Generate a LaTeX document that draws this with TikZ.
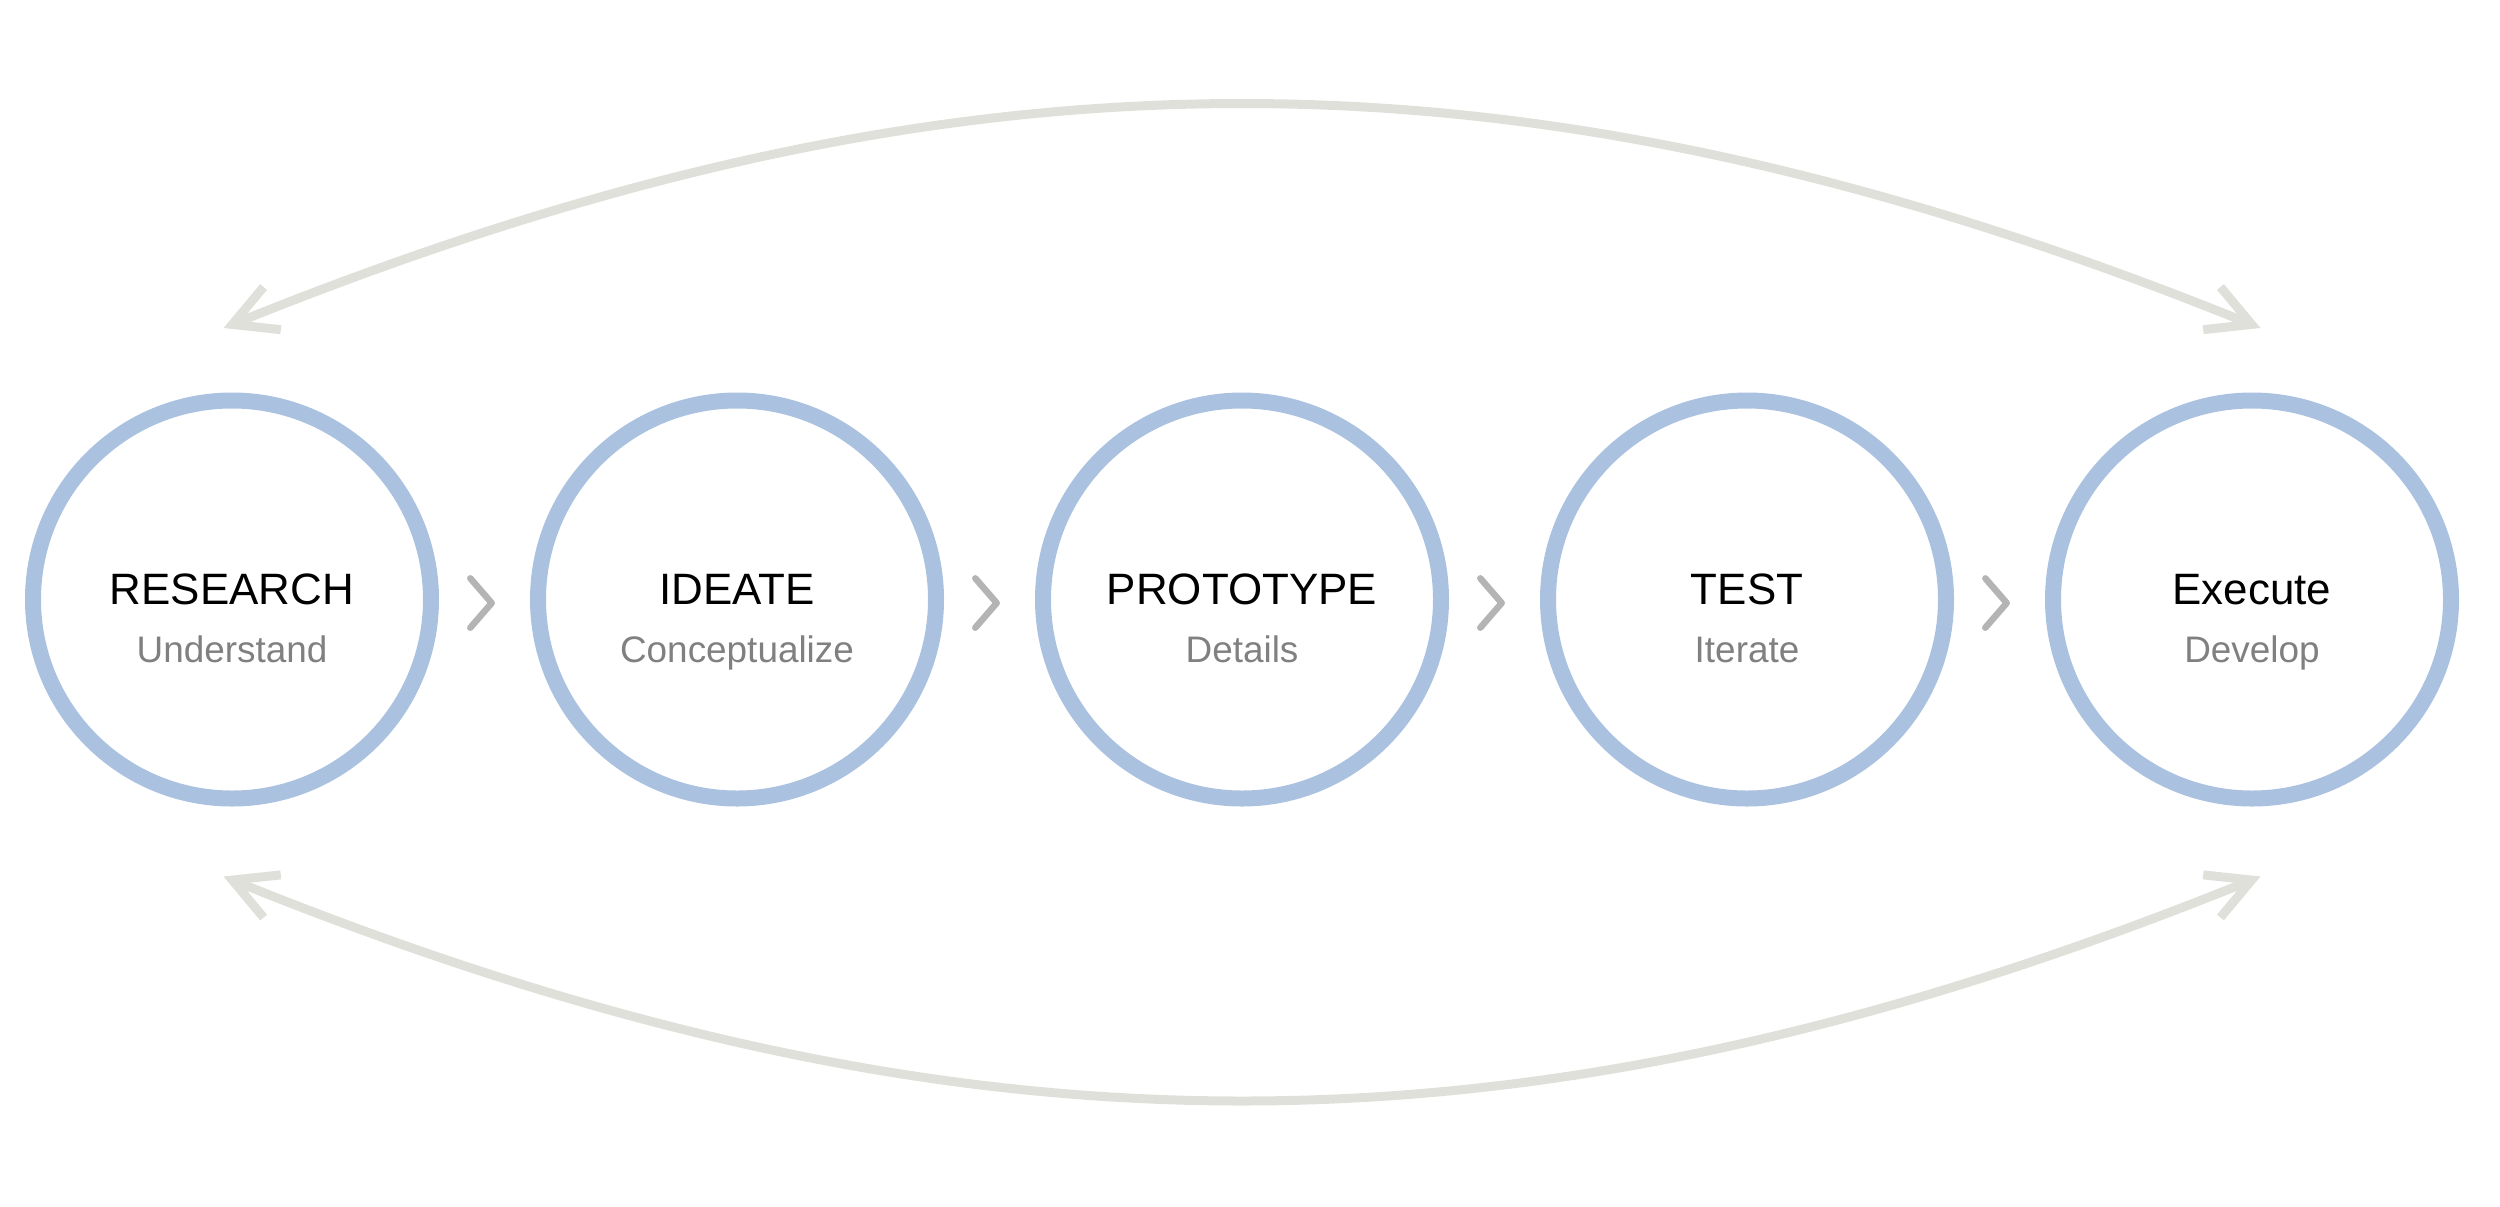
\documentclass[tikz,border=0pt]{standalone}
\usepackage{fontspec}
\setmainfont{Liberation Sans}
\usepackage{xcolor}
\definecolor{ringBlue}{RGB}{170,193,224}
\definecolor{chevGray}{RGB}{180,180,180}
\definecolor{loopGray}{RGB}{224,224,219}
\definecolor{subGray}{RGB}{128,128,128}
\usepackage{tikz}
\usetikzlibrary{arrows.meta, positioning, calc}

\begin{document}
\begin{tikzpicture}[
  node distance=9.1mm,
  stage/.style={circle, draw=ringBlue, line width=1.6mm,
                minimum size=39.8mm, inner sep=0pt},
  ttl/.style={anchor=base, font=\fontsize{12.5}{14}\selectfont, text=black},
  sub/.style={anchor=base, font=\fontsize{10.5}{12}\selectfont, text=subGray},
  chev/.style={chevGray, line width=0.65mm, line cap=round, line join=round},
  retarc/.style={loopGray, line width=0.9mm,
    {Straight Barb[length=4.3mm, width=4.6mm, line cap=butt, line join=miter]}-{Straight Barb[length=4.3mm, width=4.6mm, line cap=butt, line join=miter]}},
]
  \useasboundingbox (0,0) rectangle (25,-12.06);

  % Stages
  \node[stage] (res) at (2.32,-5.995) {};
  \node[stage, right=of res] (ide) {};
  \node[stage, right=of ide] (pro) {};
  \node[stage, right=of pro] (tst) {};
  \node[stage, right=of tst] (exe) {};

  % Labels
  \node[ttl] (resT) at ([yshift=-0.45mm]res.center) {RESEARCH};
  \node[sub] (resS) at ([yshift=-6.25mm]res.center) {Understand};
  \node[ttl] (ideT) at ([yshift=-0.45mm]ide.center) {IDEATE};
  \node[sub] (ideS) at ([yshift=-6.25mm]ide.center) {Conceptualize};
  \node[ttl] (proT) at ([yshift=-0.45mm]pro.center) {PROTOTYPE};
  \node[sub] (proS) at ([yshift=-6.25mm]pro.center) {Details};
  \node[ttl] (tstT) at ([yshift=-0.45mm]tst.center) {TEST};
  \node[sub] (tstS) at ([yshift=-6.25mm]tst.center) {Iterate};
  \node[ttl] (exeT) at ([yshift=-0.45mm]exe.center) {Execute};
  \node[sub] (exeS) at ([yshift=-6.25mm]exe.center) {Develop};

  % Chevrons between stages
  \foreach \a/\b in {res/ide, ide/pro, pro/tst, tst/exe}
    \draw[chev] ($(\a.east)!0.5!(\b.west)+(-1.42mm,2.12mm)$)
      -- ++(2.14mm,-2.47mm) -- ++(-2.14mm,-2.47mm);

  % Return arcs
  \draw[retarc] ([xshift=-0.85mm, yshift=6.45mm]res.north)
    to[bend left=22] ([xshift=0.85mm, yshift=6.45mm]exe.north);
  \draw[retarc] ([xshift=-0.85mm, yshift=-7mm]res.south)
    to[bend right=22] ([xshift=0.85mm, yshift=-7mm]exe.south);
\end{tikzpicture}
\end{document}
